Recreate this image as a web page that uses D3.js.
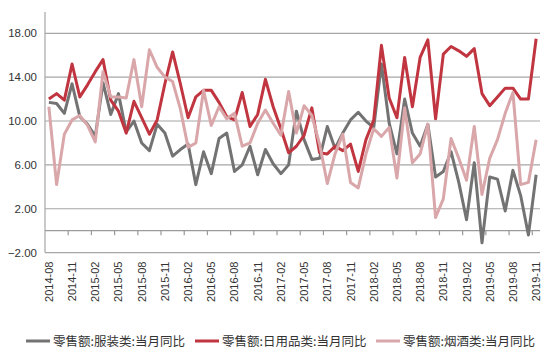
<!DOCTYPE html>
<html><head><meta charset="utf-8">
<script src="https://cdn.jsdelivr.net/npm/d3@7"></script>
<style>body{margin:0;background:#fff}svg{display:block}</style>
</head><body><svg id="c" width="550" height="355"></svg>
<script>
// months 2014-08 .. 2019-11
const months = [];
for (let y = 2014, m = 8; y < 2019 || (y === 2019 && m <= 11); m++) {
  if (m > 12) { m = 1; y++; }
  months.push(y + "-" + String(m).padStart(2, "0"));
}
const yTicks = [-2, 2, 6, 10, 14, 18];
const apparel = [11.7,11.6,10.7,13.4,10.4,9.7,8.6,13.5,10.6,12.5,9.0,10.0,8.0,7.3,9.7,8.9,6.8,7.4,7.9,4.2,
  7.2,5.2,8.4,8.9,5.4,6.0,7.7,5.1,7.4,6.1,5.2,6.0,10.9,8.3,6.5,6.6,9.5,7.5,8.9,10.1,
  10.8,10.0,9.4,15.2,9.8,7.0,12.0,8.9,7.7,9.7,4.9,5.4,7.2,4.4,1.0,6.2,-1.1,4.9,4.7,1.8,
  5.5,3.2,-0.4,5.1];
const daily = [12.0,12.5,11.9,15.2,12.2,13.3,14.5,15.6,11.9,10.9,8.9,11.8,10.3,8.8,10.1,13.4,16.3,13.4,10.3,12.2,
  12.8,12.8,11.7,10.4,10.1,12.6,9.5,10.6,13.8,11.3,9.3,7.1,7.7,8.7,11.2,7.1,7.0,7.7,7.3,7.9,
  5.4,8.3,10.1,16.9,12.1,10.3,15.8,11.3,15.8,17.4,10.2,16.1,16.8,16.4,15.9,16.6,12.5,11.4,12.2,13.0,
  13.0,12.0,12.0,17.5];
const tobacco = [11.3,4.2,8.8,10.1,10.5,9.6,8.1,14.5,12.2,12.2,12.1,15.6,11.3,16.5,14.9,14.0,13.6,11.1,7.6,8.0,
  12.8,9.6,11.3,10.2,10.7,7.7,8.0,9.8,11.0,9.8,8.7,12.7,8.9,11.4,10.5,7.9,4.3,7.0,8.8,4.4,
  3.9,7.0,9.3,8.6,9.4,4.8,11.2,6.2,7.0,9.7,1.2,2.9,8.4,6.6,4.6,9.5,3.3,6.6,8.3,10.7,
  12.6,4.2,4.4,8.3];
const seriesNames = ["零售额:服装类:当月同比", "零售额:日用品类:当月同比", "零售额:烟酒类:当月同比"];
const seriesColors = ["#737373", "#c0353f", "#d9a7aa"];
const seriesData = [apparel, daily, tobacco];

const svg = d3.select("#c");
const L = 45, R = 540, T = 33.3, B = 252.6;
const x = d3.scaleBand().domain(months).range([L, R]).paddingInner(0).paddingOuter(0);
const y = d3.scaleLinear().domain([-2, 18]).range([B, T]);
const cx = d => x(d) + x.bandwidth() / 2;

// gridlines
svg.append("g").selectAll("line").data(yTicks).join("line")
  .attr("x1", L).attr("x2", R).attr("y1", d => y(d)).attr("y2", d => y(d))
  .attr("stroke", "#a6a6a6").attr("stroke-width", 1.2);

// y axis
const yAxis = d3.axisLeft(y).tickValues(yTicks).tickFormat(d3.format(".2f")).tickSize(0).tickPadding(8);
const ya = svg.append("g").attr("transform", `translate(${L},0)`).call(yAxis);
ya.select(".domain").remove();
ya.selectAll("text").attr("font-family", "Liberation Sans, Arial, sans-serif").attr("font-size", 11.5).attr("fill", "#333");
svg.append("line").attr("x1", L).attr("x2", L).attr("y1", 12).attr("y2", B).attr("stroke", "#a6a6a6").attr("stroke-width", 1.2);

// zero axis with ticks at category boundaries
svg.append("line").attr("x1", L).attr("x2", R).attr("y1", y(0)).attr("y2", y(0)).attr("stroke", "#9a9a9a").attr("stroke-width", 1.2);
const bIdx = d3.range(3, months.length, 3);
svg.append("g").selectAll("line").data(bIdx).join("line")
  .attr("x1", i => x(months[i])).attr("x2", i => x(months[i]))
  .attr("y1", y(0)).attr("y2", y(0) + 4.5).attr("stroke", "#9a9a9a").attr("stroke-width", 1.2);

// x labels
const lab = months.filter((d, i) => i % 3 === 0);
svg.append("g").selectAll("text").data(lab).join("text")
  .attr("transform", d => `translate(${cx(d) + 4},${B + 9}) rotate(-90)`)
  .attr("text-anchor", "end")
  .attr("font-family", "Liberation Sans, Arial, sans-serif").attr("font-size", 11).attr("fill", "#333")
  .text(d => d);

// lines
const line = d3.line().x((d, i) => cx(months[i])).y(d => y(d));
seriesData.forEach((s, k) => {
  svg.append("path").datum(s).attr("d", line).attr("fill", "none")
    .attr("stroke", seriesColors[k]).attr("stroke-width", 3).attr("stroke-linejoin", "round");
});

// legend
const legX = [26, 195, 376];
const lg = svg.append("g");
seriesNames.forEach((n, k) => {
  lg.append("line").attr("x1", legX[k]).attr("x2", legX[k] + 24).attr("y1", 341).attr("y2", 341)
    .attr("stroke", seriesColors[k]).attr("stroke-width", 3);
  lg.append("text").attr("x", legX[k] + 27).attr("y", 346)
    .attr("font-family", "Noto Sans CJK SC, sans-serif").attr("font-size", 12.5).attr("fill", "#333")
    .text(n);
});
</script></body></html>
